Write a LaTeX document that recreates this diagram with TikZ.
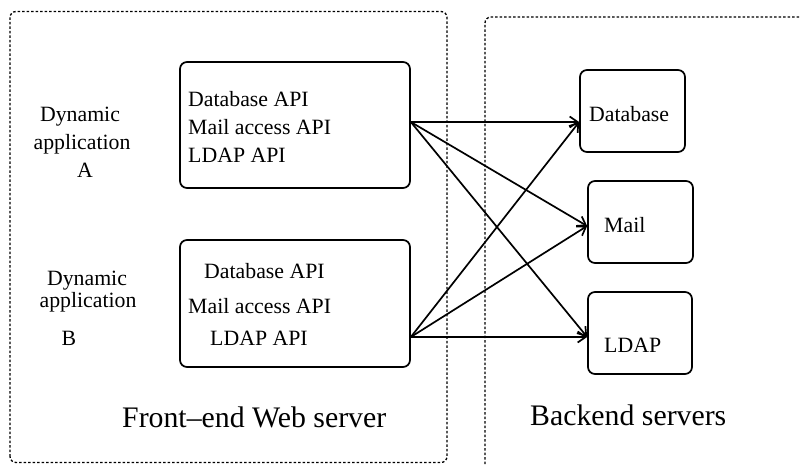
\documentclass[tikz,border=0pt]{standalone}
\usepackage{fontspec}
\setmainfont{Liberation Serif}
\usetikzlibrary{arrows.meta,calc}
\begin{document}
\begin{tikzpicture}[x=1pt,y=1pt,
  region/.style={draw, line width=1.3pt, dash pattern=on 2.5pt off 2pt, rounded corners=6pt},
  box/.style={draw, line width=1.7pt, rounded corners=7pt, inner sep=0pt},
  lbl/.style={anchor=base west, inner sep=0pt, font=\fontsize{21.8}{26}\selectfont},
  clbl/.style={anchor=base, inner sep=0pt, font=\fontsize{21.8}{26}\selectfont},
  big/.style={anchor=base west, inner sep=0pt, font=\fontsize{29.8}{34}\selectfont},
  link/.style={line width=1.7pt, -{Straight Barb[length=8pt,width=11pt,line width=1.7pt]}}]
\useasboundingbox (0,0) rectangle (800,464);
% regions
\draw[region] (10,1.5) rectangle (447,452.5);
\draw[region] (485,0) -- (485,447) -- (800,447);
% boxes
\node[box, minimum width=230pt, minimum height=126pt] (a) at (295,339) {};
\node[box, minimum width=230pt, minimum height=127pt] (b) at (295,160.5) {};
\node[box, minimum width=105pt, minimum height=82pt] (db) at (632.5,353) {};
\node[box, minimum width=105pt, minimum height=82pt] (mail) at (640.5,242) {};
\node[box, minimum width=104pt, minimum height=82pt] (ldap) at (640,131) {};
% texts
\node[clbl] (ta1) at (80,342) {Dynamic};
\node[clbl] (ta2) at (82,314) {application};
\node[clbl] (ta3) at (85,286) {A};
\node[clbl] (tb1) at (87,179) {Dynamic};
\node[clbl] (tb2) at (88,157) {application};
\node[clbl] (tb3) at (69,119) {B};
\node[lbl] (a1) at (188,357) {Database API};
\node[lbl] (a2) at (188,329) {Mail access API};
\node[lbl] (a3) at (188,301) {LDAP API};
\node[lbl] (b1) at (204,186) {Database API};
\node[lbl] (b2) at (188,151) {Mail access API};
\node[lbl] (b3) at (210,119) {LDAP API};
\node[lbl] (dbt) at (589,342) {Database};
\node[lbl] (mailt) at (604,231) {Mail};
\node[lbl] (ldapt) at (604,112) {LDAP};
\node[big] (fe) at (122,37) {Front–end Web server};
\node[big] (be) at (530,39) {Backend servers};
% connectors
\coordinate (aout) at ($(a.east)+(0,3)$);
\coordinate (bout) at ($(b.east)+(0,-33.5)$);
\coordinate (dbin) at (db.west |- aout);
\coordinate (mailin) at ($(mail.west)+(0,-4)$);
\coordinate (ldapin) at (ldap.west |- bout);
\draw[link] (aout) -- (dbin);
\draw[link] (aout) -- (mailin);
\draw[link] (aout) -- (ldapin);
\draw[link] (bout) -- (dbin);
\draw[link] (bout) -- (mailin);
\draw[link] (bout) -- (ldapin);
\end{tikzpicture}
\end{document}
